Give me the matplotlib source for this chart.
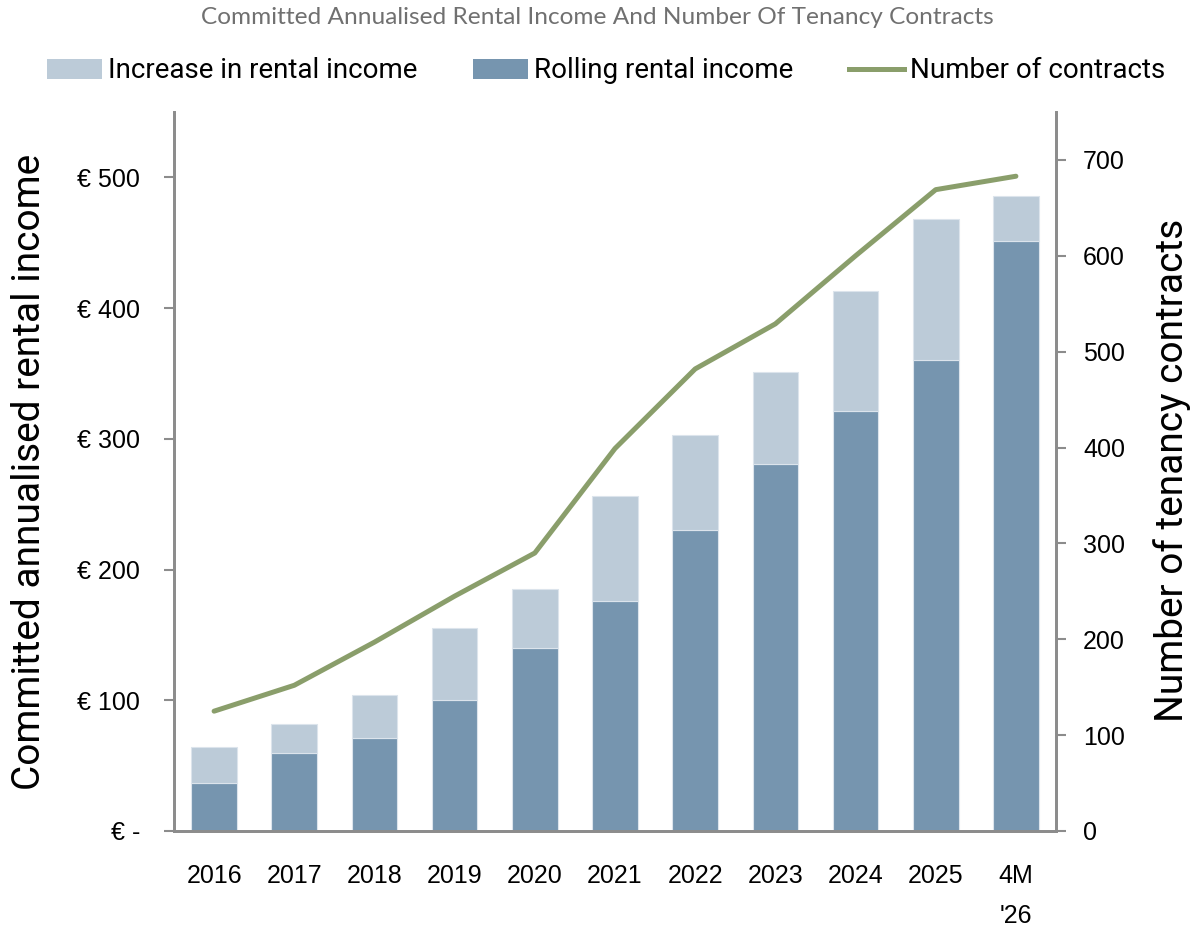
import matplotlib
matplotlib.use("Agg")
import matplotlib.pyplot as plt
from matplotlib.patches import Patch
from matplotlib.lines import Line2D
import numpy as np

categories = ["2016", "2017", "2018", "2019", "2020", "2021", "2022", "2023", "2024", "2025", "4M\n'26"]
rolling_income = [37, 60, 71, 100, 140, 176, 230, 281, 321, 360, 451]
increase_income = [27, 22, 33, 55, 45, 80, 73, 70, 92, 108, 35]
contracts = [125, 152, 197, 245, 290, 399, 482, 529, 600, 669, 683]
left_ticks = [0, 100, 200, 300, 400, 500]
left_labels = ["€ -", "€ 100", "€ 200", "€ 300", "€ 400", "€ 500"]
right_ticks = [0, 100, 200, 300, 400, 500, 600, 700]

narrow = "Roboto"
regular = "Liberation Sans"
title_font = "Lato"

C_LIGHT = "#BCCBD8"
C_DARK = "#7695AF"
C_LINE = "#8A9E6B"
C_AXIS = "#8C8C8C"

fig = plt.figure(figsize=(11.94, 9.27), dpi=100)
ax = fig.add_axes([174/1194, 1-831/927, (1056-174)/1194, (831-112)/927])
ax2 = ax.twinx()

x = np.arange(len(categories))
w = 0.57
ax.bar(x, rolling_income, width=w, color=C_DARK, edgecolor="#DCE4EC", linewidth=0.8, zorder=2)
ax.bar(x, increase_income, width=w, bottom=rolling_income, color=C_LIGHT, edgecolor="#DCE4EC", linewidth=0.8, zorder=2)
ax2.plot(x, contracts, color=C_LINE, linewidth=3.6, solid_capstyle="round", zorder=3)

ax.set_xlim(-0.5, len(categories) - 0.5)
ax.set_ylim(0, 550)
ax2.set_ylim(0, 750)

ax.set_yticks(left_ticks)
ax.set_yticklabels(left_labels, fontfamily=regular, fontsize=18)
ax2.set_yticks(right_ticks)
ax2.set_yticklabels([str(v) for v in right_ticks], fontfamily=regular, fontsize=18)
ax.set_xticks(x)
ax.set_xticklabels(categories, fontfamily=regular, fontsize=18, linespacing=1.8, va="top")
ax.tick_params(axis="x", length=0, pad=24)
ax.tick_params(axis="y", length=7.5, width=1.5, color=C_AXIS, pad=17)
ax2.tick_params(axis="y", length=7.5, width=1.5, color=C_AXIS, pad=12)

for a in (ax, ax2):
    a.spines["top"].set_visible(False)
    for s in ("left", "right", "bottom"):
        a.spines[s].set_color(C_AXIS)
        a.spines[s].set_linewidth(2)

fig.text(30/1194, 1-472/927, "Committed annualised rental income", rotation=90,
         ha="center", va="center", fontfamily=narrow, fontsize=28)
fig.text(1172/1194, 1-470/927, "Number of tenancy contracts", rotation=90,
         ha="center", va="center", fontfamily=narrow, fontsize=28)

fig.text(0.5, 1-18/927, "Committed Annualised Rental Income And Number Of Tenancy Contracts",
         ha="center", va="center", color="#707070", fontsize=17.6, fontfamily=title_font)

handles = [Patch(facecolor=C_LIGHT, edgecolor="none"),
           Patch(facecolor=C_DARK, edgecolor="none"),
           Line2D([0], [0], color=C_LINE, lw=3.6)]
labels = ["Increase in rental income", "Rolling rental income", "Number of contracts"]
fig.legend(handles, labels, loc="center", bbox_to_anchor=(606/1194, 1-71/927), ncol=3, frameon=False,
           prop={"family": narrow, "size": 20}, handlelength=2.0, handleheight=0.75,
           handletextpad=0.2, columnspacing=2.0)

fig.savefig("out.png", dpi=100)
